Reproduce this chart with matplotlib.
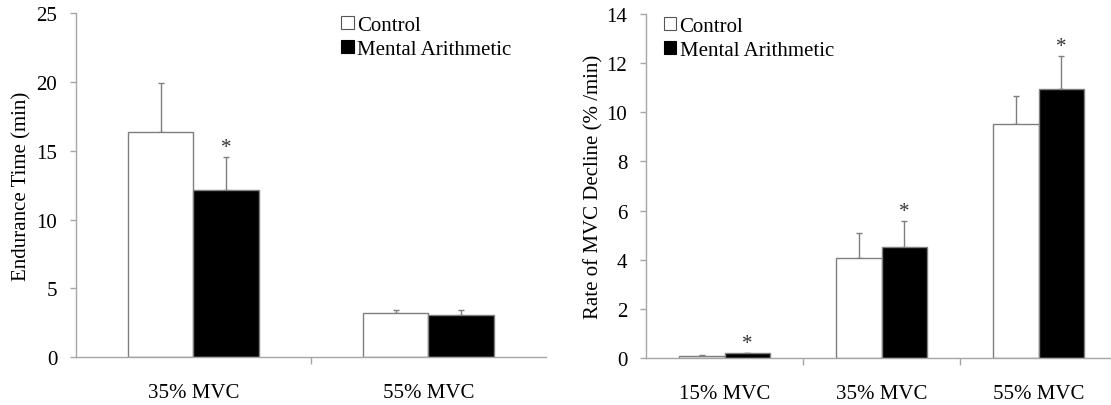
import numpy as np
import matplotlib
matplotlib.use("Agg")
import matplotlib.pyplot as plt
from matplotlib.patches import Rectangle

plt.rcParams['font.family'] = ['Liberation Serif', 'DejaVu Serif']
plt.rcParams['font.size'] = 15

# Data
series = ["Control", "Mental Arithmetic"]

endur_cats = ["35% MVC", "55% MVC"]
endur_ctrl = [16.33, 3.17]
endur_ctrl_err = [3.57, 0.22]
endur_ma = [12.16, 3.08]
endur_ma_err = [2.37, 0.32]
endur_sig = [True, False]

rate_cats = ["15% MVC", "35% MVC", "55% MVC"]
rate_ctrl = [0.10, 4.08, 9.52]
rate_ctrl_err = [0.03, 1.01, 1.13]
rate_ma = [0.20, 4.53, 10.94]
rate_ma_err = [0.02, 1.06, 1.35]
rate_sig = [True, True, True]

edge = "#7f7f7f"
axis_col = "#a6a6a6"


def draw(ax, cats, ctrl, ctrl_err, ma, ma_err, sig, ymax, ystep, ylabel, width, label_x, leg_x):
    x = np.arange(len(cats))
    ax.bar(x - width / 2, ctrl, width, color="white", edgecolor=edge, linewidth=1.0, zorder=2)
    ax.bar(x + width / 2, ma, width, color="black", edgecolor=edge, linewidth=1.0, zorder=2)
    ax.errorbar(x - width / 2, ctrl, yerr=[np.zeros(len(cats)), ctrl_err], fmt="none",
                ecolor=edge, elinewidth=1.0, capsize=2, capthick=1.0, zorder=1)
    ax.errorbar(x + width / 2, ma, yerr=[np.zeros(len(cats)), ma_err], fmt="none",
                ecolor=edge, elinewidth=1.0, capsize=2, capthick=1.0, zorder=1)
    for i, s in enumerate(sig):
        if s:
            ax.annotate("*", (x[i] + width / 2, ma[i] + ma_err[i]), xytext=(0, 3.5),
                        textcoords="offset points", ha="center", va="baseline",
                        fontsize=15, color="#333333")

    ax.set_xlim(-0.5, len(cats) - 0.5)
    ax.set_ylim(0, ymax)
    ax.set_yticks(np.arange(0, ymax + 0.01, ystep))
    ax.set_xticks(x)
    ax.set_xticklabels(cats)
    ax.set_xticks(np.arange(0.5, len(cats) - 0.5, 1), minor=True)
    ax.tick_params(axis="x", which="major", length=0, pad=19)
    ax.tick_params(axis="x", which="minor", length=5, color=axis_col, width=1)
    ax.tick_params(axis="y", length=4, color=axis_col, width=1, pad=9.5)
    for side in ["top", "right"]:
        ax.spines[side].set_visible(False)
    for side in ["left", "bottom"]:
        ax.spines[side].set_color(axis_col)
        ax.spines[side].set_linewidth(1.0)
    ax.set_ylabel(ylabel)
    ax.yaxis.set_label_coords(label_x, 0.5)

    handles = [Rectangle((0, 0), 1, 1, facecolor="white", edgecolor="#555555", linewidth=0.8),
               Rectangle((0, 0), 1, 1, facecolor="black", edgecolor="black", linewidth=0.8)]
    ax.legend(handles, series, loc="upper left", bbox_to_anchor=(leg_x, 0.993),
              frameon=False, handlelength=0.6, handleheight=0.6, handletextpad=0.15,
              labelspacing=0.25, borderpad=0, borderaxespad=0)


fig = plt.figure(figsize=(11.11, 4.06), dpi=100)
ax1 = fig.add_axes([0.0684, 0.1182, 0.423, 0.8466])
ax2 = fig.add_axes([0.5815, 0.1158, 0.424, 0.847])

draw(ax1, endur_cats, endur_ctrl, endur_ctrl_err, endur_ma, endur_ma_err, endur_sig,
     25, 5, "Endurance Time (min)", 0.28, -0.095, 0.564)
draw(ax2, rate_cats, rate_ctrl, rate_ctrl_err, rate_ma, rate_ma_err, rate_sig,
     14, 2, "Rate of MVC Decline (% /min)", 0.29, -0.09, 0.038)

fig.savefig("out.png", dpi=100)
